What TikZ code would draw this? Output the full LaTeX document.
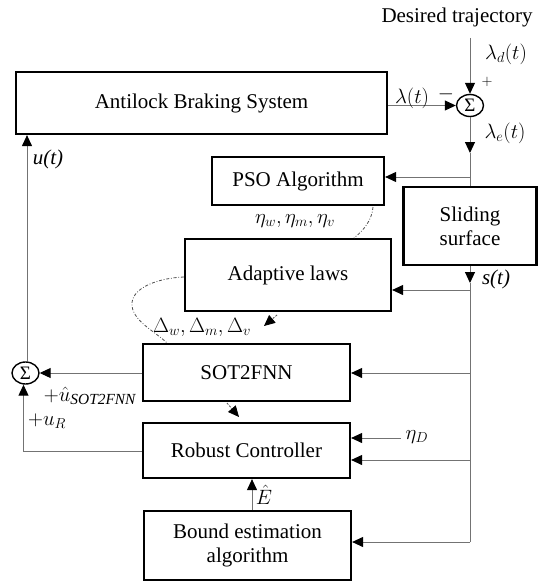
\documentclass[tikz,border=0pt]{standalone}
\usepackage{fontspec}
\setmainfont{Liberation Serif}
\usetikzlibrary{arrows.meta,calc,shapes.geometric}

\begin{document}
\begin{tikzpicture}[x=1pt,y=-1pt,
  font=\fontsize{21}{24}\selectfont,
  blk/.style={draw, line width=2.2pt, inner sep=0pt, align=center},
  wire/.style={draw=black!55, line width=1pt},
  tip/.style={-{Triangle[length=11pt,width=10pt,color=black]}},
  arr/.style={wire, tip},
  darr/.style={draw=black!70, line width=0.8pt, dash pattern=on 2pt off 1.5pt, tip},
  dcurve/.style={draw=black!70, line width=0.8pt, dash pattern=on 3pt off 1.8pt on 0.8pt off 1.8pt},
  sumnode/.style={draw, ellipse, line width=1.4pt, minimum width=27pt, minimum height=22pt, inner sep=0pt, font=\fontsize{19}{19}\selectfont},
  lbl/.style={inner sep=0pt, font=\fontsize{22}{24}\selectfont}]
\useasboundingbox (0,0) rectangle (542,583);

% blocks
\node[blk, minimum width=371pt, minimum height=62pt] (abs) at (201.5,103) {Antilock Braking System};
\node[blk, minimum width=172pt, minimum height=48pt] (pso) at (298,181) {PSO Algorithm};
\node[blk, minimum width=133pt, minimum height=78pt] (sl) at (470,226) {Sliding\\surface};
\node[blk, minimum width=206pt, minimum height=72pt] (ad) at (288,275) {Adaptive laws};
\node[blk, minimum width=207pt, minimum height=57pt] (nn) at (246.5,372.5) {SOT2FNN};
\node[blk, minimum width=207pt, minimum height=55pt] (rc) at (246.5,450.5) {Robust Controller};
\node[blk, minimum width=207pt, minimum height=69pt] (be) at (247.5,545.5) {Bound estimation\\algorithm};

% summing junctions
\node[sumnode] (s1) at (470,105.5) {Σ};
\node[sumnode] (s2) at (25.5,373) {Σ};

% auxiliary points
\coordinate (ref) at (470,38);
\coordinate (le) at (470,153);
\coordinate (bp) at (470,177);
\coordinate (st) at (470,283);
\coordinate (ja) at (470,290);
\coordinate (jn) at (470,373);
\coordinate (jr) at (470,460);
\coordinate (jb) at (470,542);
\coordinate (etaD) at (401,438);
\coordinate (ur) at (23.5,451);

% error path
\draw[arr] (ref) -- (s1.north);
\draw[arr] (abs.east |- s1.west) -- (s1.west);
\draw[arr] (s1.south) -- (le);
\draw[wire] (le) -- (sl.north);
\draw[arr] (bp) -- (pso.east |- bp);
\draw[arr] (sl.south) -- (st);
\draw[wire] (st) -- (jb);
\draw[arr] (ja) -- (ad.east |- ja);
\draw[arr] (jn) -- (nn.east |- jn);
\draw[arr] (jr) -- (rc.east |- jr);
\draw[arr] (jb) -- (be.east |- jb);
\draw[arr] (etaD) -- (rc.east |- etaD);
\draw[arr] ([xshift=4.5pt]be.north) -- ([xshift=4.5pt]be.north |- rc.south);

% control signal
\draw[arr] (nn.west |- s2.east) -- (s2.east);
\draw[arr] (rc.west |- ur) -- (ur) -- (ur |- s2.south);
\draw[arr] ([xshift=1.5pt]s2.north) -- ([xshift=1.5pt]s2.north |- abs.south);

% parameter updates
\draw[dcurve] (373,207) .. controls (372,220) and (364,230) .. (354,238);
\draw[dcurve] (ad.west |- 0,277) .. controls (158,278) and (130,288) .. (132,306) .. controls (134,322) and (156,332) .. (167,343);
\draw[darr] (277,315) -- (264,326);
\draw[darr] (227,403) -- (239,417);

% labels
\node[lbl, font=\fontsize{21}{24}\selectfont] (tdes) at (457,17) {Desired trajectory};
\node[lbl] (tld) at (506,54) {$\lambda_d(t)$};
\node[lbl, font=\fontsize{14}{14}\selectfont] (tplus) at (487,82) {$+$};
\node[lbl] (tl) at (412,98) {$\lambda(t)$};
\node[lbl] (tminus) at (446,94) {$-$};
\node[lbl] (tle) at (505,133) {$\lambda_e(t)$};
\node[lbl, font=\fontsize{21}{24}\selectfont] (tu) at (48,159) {\textit{u(t)}};
\node[lbl] (teta) at (295,221) {$\eta_w,\eta_m,\eta_v$};
\node[lbl, font=\fontsize{21}{24}\selectfont] (ts) at (496,279) {\textit{s(t)}};
\node[lbl] (tdel) at (202,327) {$\Delta_w,\Delta_m,\Delta_v$};
\node[lbl] (tunn) at (90,396) {$+\hat{u}_{\mathit{SOT2FNN}}$};
\node[lbl] (tur) at (47,421) {$+u_R$};
\node[lbl] (tetad) at (417,437) {$\eta_D$};
\node[lbl] (tE) at (264,495) {$\hat{E}$};
\end{tikzpicture}
\end{document}
